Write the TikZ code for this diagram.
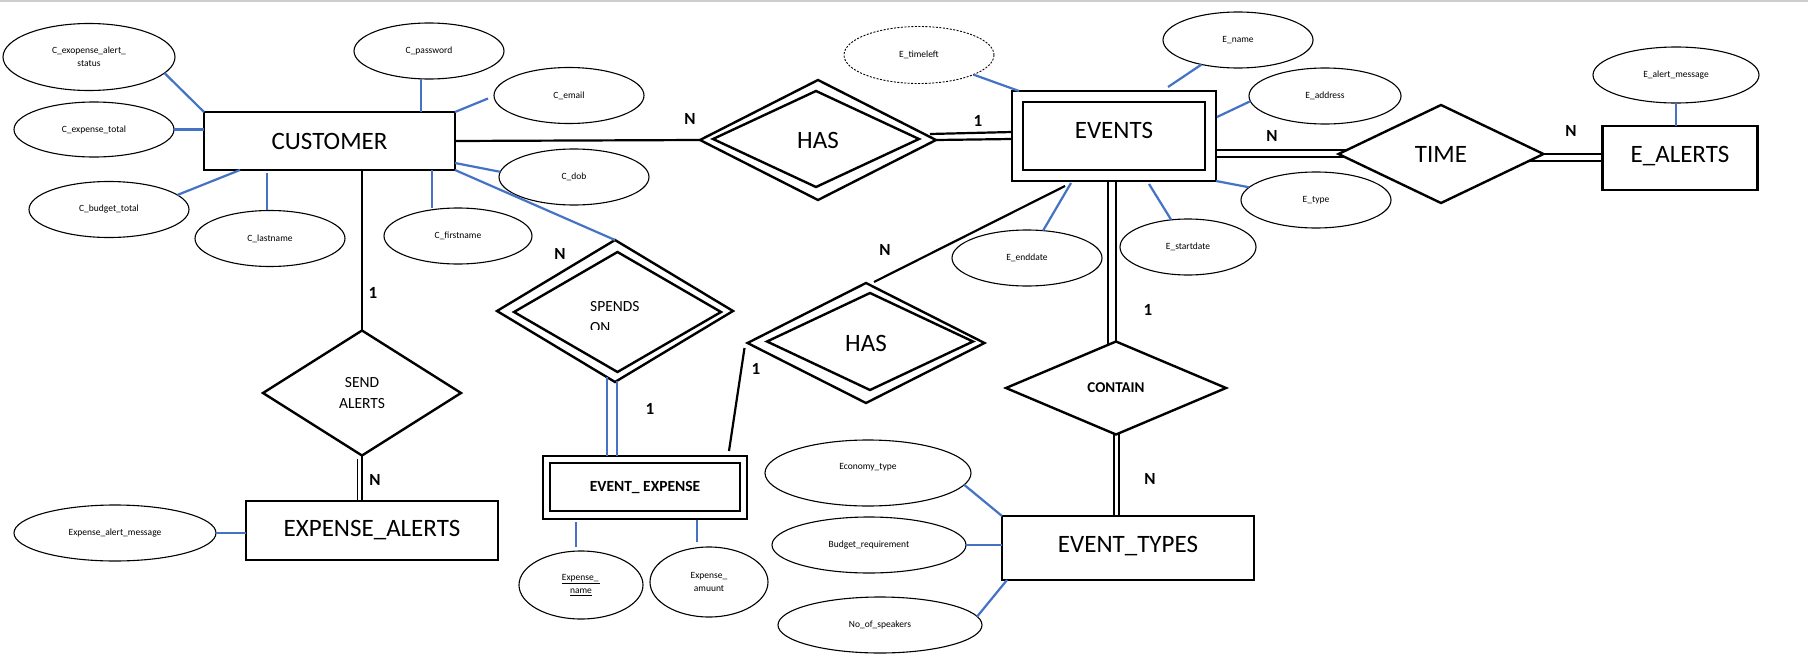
\documentclass[tikz,border=0pt]{standalone}
\usepackage{fontspec}
\setmainfont{Carlito}
\usetikzlibrary{shapes.geometric,calc}
\definecolor{attrblue}{HTML}{4472C4}
\definecolor{framegray}{HTML}{CDCDCD}

\begin{document}
\begin{tikzpicture}[x=1pt,y=-1pt,
  ent/.style={rectangle, draw, line width=2.6pt, inner sep=0pt, outer sep=0pt,
              font=\fontsize{25}{30}\selectfont},
  entin/.style={rectangle, draw, line width=2.6pt, inner sep=0pt, outer sep=0pt},
  rel/.style={diamond, draw, line width=2.4pt, inner sep=0pt, outer sep=0pt,
              font=\fontsize{25}{30}\selectfont},
  relin/.style={diamond, draw, line width=2.4pt, inner sep=0pt, outer sep=0pt},
  attr/.style={ellipse, draw, line width=1.1pt, inner sep=0pt, outer sep=0pt,
               align=center, font=\fontsize{9.5}{13}\selectfont},
  card/.style={inner sep=0pt, font=\bfseries\fontsize{17}{20}\selectfont},
  link/.style={line width=2.2pt, draw=black},
  alink/.style={line width=2.2pt, draw=attrblue},
]
\useasboundingbox (0,0) rectangle (1808,672);
\fill[white] (0,0) rectangle (1808,672);
\draw[framegray, line width=2pt] (0,1) -- (1808,1);

% ---------- entities ----------
\node[ent, minimum width=251pt, minimum height=58pt] (cust) at (329.5,141) {CUSTOMER};
\node[entin, minimum width=182pt, minimum height=68pt] (evin) at (1114,136) {};
\node[ent, minimum width=204pt, minimum height=90pt] (ev) at (1114,136) {\raisebox{12pt}{EVENTS}};
\node[ent, minimum width=252pt, minimum height=59pt] (exa) at (372,530.5) {EXPENSE\_ALERTS};
\node[entin, minimum width=190pt, minimum height=48pt] (eein) at (645,487) {};
\node[ent, minimum width=204pt, minimum height=63pt, font=\bfseries\fontsize{15.5}{18}\selectfont] (ee) at (645,487.5) {EVENT\_ EXPENSE};
\node[ent, minimum width=155pt, minimum height=64pt] (ealert) at (1680,158) {\raisebox{8pt}{E\_ALERTS}};
\node[ent, minimum width=252pt, minimum height=64pt] (et) at (1128,548) {\raisebox{8pt}{EVENT\_TYPES}};

% ---------- relationships ----------
\node[rel, minimum width=236pt, minimum height=120pt] (has1) at (818,140) {HAS};
\node[relin, minimum width=206pt, minimum height=96pt] (has1in) at (816,139) {};
\node[rel, minimum width=237pt, minimum height=120pt] (has2) at (866,343) {HAS};
\node[relin, minimum width=206pt, minimum height=97pt] (has2in) at (870,341.5) {};
\node[rel, minimum width=236pt, minimum height=142pt] (sp) at (615,311) {};
\node[relin, minimum width=207pt, minimum height=120pt] (spin) at (617.5,312) {};
\node[rel, minimum width=198pt, minimum height=125pt, align=center,
      font=\fontsize{15.5}{21}\selectfont] (send) at (362,393) {SEND\\ALERTS};
\node[rel, minimum width=205pt, minimum height=98pt] (time) at (1441,154) {TIME};
\node[rel, minimum width=220pt, minimum height=93pt,
      font=\bfseries\fontsize{15}{18}\selectfont] (con) at (1116,388) {CONTAIN};

% label of SPENDS ON, its second line cut off by the text frame
\begin{scope}
  \clip (560,290) rectangle (680,329.5);
  \node[anchor=north west, align=left, inner sep=0pt,
        font=\fontsize{15.5}{21}\selectfont] (sptext) at (590,301) {SPENDS\\ON};
\end{scope}

% ---------- attributes ----------
\node[attr, minimum width=172pt, minimum height=67pt] (a1) at (89,57) {C\_exopense\_alert\_\\status};
\node[attr, minimum width=160pt, minimum height=55pt] (a2) at (94,129.5) {C\_expense\_total};
\node[attr, minimum width=160pt, minimum height=56pt] (a3) at (109,209.5) {C\_budget\_total};
\node[attr, minimum width=150pt, minimum height=56pt] (a4) at (270,238.5) {C\_lastname};
\node[attr, minimum width=150pt, minimum height=56pt] (a5) at (429,51) {C\_password};
\node[attr, minimum width=150pt, minimum height=56pt] (a6) at (569,95.5) {C\_email};
\node[attr, minimum width=150pt, minimum height=56pt] (a7) at (574,177) {C\_dob};
\node[attr, minimum width=148pt, minimum height=56pt] (a8) at (458,236) {C\_firstname};

\node[attr, dash pattern=on 2pt off 1.5pt, line width=0.9pt,
      minimum width=150pt, minimum height=57pt] (etl) at (919,55) {E\_timeleft};
\node[attr, minimum width=150pt, minimum height=56pt] (en) at (1238,40) {E\_name};
\node[attr, minimum width=152pt, minimum height=56pt] (ead) at (1325,96) {E\_address};
\node[attr, minimum width=150pt, minimum height=56pt] (ety) at (1316,200) {E\_type};
\node[attr, minimum width=136pt, minimum height=56pt] (esd) at (1188,247) {E\_startdate};
\node[attr, minimum width=150pt, minimum height=56pt] (eed) at (1027,258) {E\_enddate};
\node[attr, minimum width=166pt, minimum height=56pt] (eam) at (1676,75) {E\_alert\_message};

\node[attr, minimum width=202pt, minimum height=56pt] (xam) at (115,533) {Expense\_alert\_message};
\node[attr, minimum width=124pt, minimum height=68pt] (xn) at (581,585) {\underline{Expense\_\,}\\\underline{name}};
\node[attr, minimum width=118pt, minimum height=70pt] (xa) at (709,582) {Expense\_\\amuunt};

\node[attr, minimum width=206pt, minimum height=66pt] (eco) at (868,473) {\raisebox{14pt}{Economy\_type}};
\node[attr, minimum width=194pt, minimum height=56pt] (bud) at (869,545) {Budget\_requirement};
\node[attr, minimum width=204pt, minimum height=56pt] (nos) at (880,625) {No\_of\_speakers};

% ---------- attribute links ----------
\draw[alink] (a1.-12) -- (cust.north west);
\draw[alink] (a2.east) -- (a2.east -| cust.west);
\draw[alink] (a3.12) -- ($(cust.south west)+(36,0)$);
\coordinate (l4) at ($(a4.north)+(-3,-1)$);
\draw[alink] (l4) -- ($(l4 |- cust.south)+(0,3)$);
\coordinate (l5) at ($(a5.south)+(-8,0)$);
\draw[alink] (l5) -- (l5 |- cust.north);
\draw[alink] (cust.north east) -- ($(a6.west)+(-6,3)$);
\draw[alink] ($(cust.south east)+(0,-7)$) -- (a7.176);
\coordinate (l8) at ($(cust.south east)+(-23,0)$);
\draw[alink] (l8) -- (l8 |- a8.north);

\draw[alink] (etl) -- ($(ev.north west)+(7,0)$);
\draw[alink] (en) -- ($(ev.north)+(54,-4)$);
\draw[alink] (ead.184) -- ($(ev.east)+(1,-19)$);
\draw[alink] (ev.south east) -- (ety);
\draw[alink] ($(ev.south)+(35,3)$) -- (esd);
\draw[alink] ($(ev.south)+(-43,2)$) -- (eed);
\draw[alink, line width=1.5pt] (eam.south) -- (eam.south |- ealert.north);

\draw[alink] (xam.east) -- (xam.east -| exa.west);
\coordinate (ln) at ($(xn.north)+(-5,-4)$);
\draw[alink] (ln) -- ($(ln |- ee.south)+(0,3)$);
\coordinate (la) at ($(xa.north)+(-12,-5)$);
\draw[alink] (la) -- ($(la |- ee.south)+(0,1)$);

\draw[alink] (eco.-7) -- (et.north west);
\draw[alink] (bud.east) -- (bud.east -| et.west);
\draw[alink] (nos.5) -- ($(et.south west)+(5,0)$);

% ---------- relationship links ----------
\draw[link] (cust.east) -- (has1.west);
\draw[link] ($(has1.east)+(-6,-6)$) -- ($(ev.west)+(0,-4)$);
\draw[link] (has1.east) -- ($(ev.west)+(0,3)$);

\draw[link] ($(ev.east)+(0,14)$) -- ($(time.west)+(8,-4)$);
\draw[link] ($(ev.east)+(0,21)$) -- ($(time.west)+(6,3)$);
\draw[link] (time.east) -- ($(ealert.west)+(0,-4)$);
\draw[link] ($(time.east)+(-14,7)$) -- ($(ealert.west)+(0,3)$);

\draw[link] ($(ev.south)+(-6,0)$) -- ($(con.north)+(-8,4)$);
\draw[link] ($(ev.south)+(2,0)$) -- (con.north);
\coordinate (c1) at ($(con.south)+(-2,-1)$);
\coordinate (c2) at ($(con.south)+(3,-1.5)$);
\draw[link] (c1) -- (c1 |- et.north);
\draw[link] (c2) -- (c2 |- et.north);

\draw[link] ($(ev.south west)+(53,5)$) -- ($(has2.north)+(8,-1)$);
\draw[link] ($(ee.north east)+(-18,-5)$) -- ($(has2.west)+(-3,5)$);

\draw[alink] (cust.south east) -- (sp.north);
\coordinate (s1) at ($(sp.south)+(-8,-5)$);
\coordinate (s2) at ($(sp.south)+(2,-1)$);
\draw[alink] (s1) -- (s1 |- ee.north);
\draw[alink] (s2) -- (s2 |- ee.north);

\draw[link] (send.north |- cust.south) -- (send.north);
\coordinate (d1) at ($(send.south)+(-4.5,3)$);
\coordinate (d2) at ($(send.south)+(0,0)$);
\draw[link, line width=1.8pt] (d1) -- (d1 |- exa.north);
\draw[link, line width=1.8pt] (d2) -- (d2 |- exa.north);

% ---------- cardinalities ----------
\node[card] (k1) at (690,119) {N};
\node[card] (k2) at (978,121) {1};
\node[card] (k3) at (1272,136) {N};
\node[card] (k4) at (1571,131) {N};
\node[card] (k5) at (373,293) {1};
\node[card] (k6) at (375,480) {N};
\node[card] (k7) at (560,254) {N};
\node[card] (k8) at (650,409) {1};
\node[card] (k9) at (756,369) {1};
\node[card] (k10) at (885,250) {N};
\node[card] (k11) at (1148,310) {1};
\node[card] (k12) at (1150,479) {N};
\end{tikzpicture}
\end{document}
